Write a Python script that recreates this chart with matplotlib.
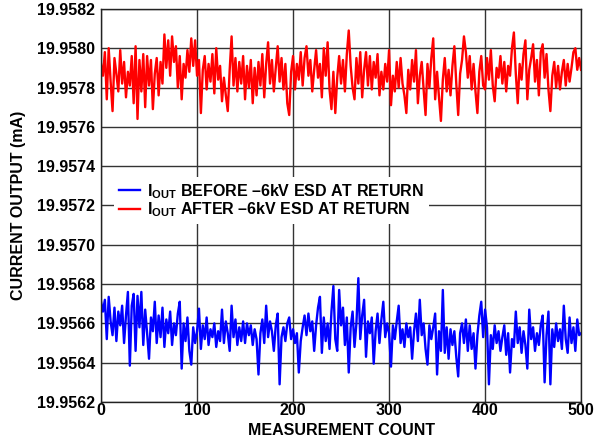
import numpy as np
import matplotlib
matplotlib.use("Agg")
import matplotlib.pyplot as plt

plt.rcParams["font.family"] = ["Liberation Sans", "DejaVu Sans"]
plt.rcParams["font.weight"] = "bold"
plt.rcParams["mathtext.fontset"] = "custom"
plt.rcParams["mathtext.rm"] = "Liberation Sans:bold"
plt.rcParams["mathtext.bf"] = "Liberation Sans:bold"
plt.rcParams["mathtext.it"] = "Liberation Sans:bold"

# readings in units of 0.0001 mA above 19.9560 mA, one every 2 counts (0..500)
after_esd = [
    19.2, 18.6, 19.8, 17.4, 20.0, 18.3, 16.8, 19.5, 18.7, 17.8, 19.9, 18.2, 19.3, 17.5, 18.8, 18.1, 19.6, 17.2, 20.1, 16.4, 19.4, 17.8, 19.7, 17.0, 19.6,
    18.1, 19.4, 16.9, 18.7, 19.5, 17.6, 19.3, 18.2, 20.7, 19.0, 20.4, 18.6, 20.6, 19.3, 20.1, 18.0, 19.6, 17.4, 19.2, 18.5, 19.9, 18.8, 20.5, 19.1, 20.4,
    18.6, 19.4, 16.7, 18.9, 19.6, 17.9, 19.2, 18.3, 19.7, 17.7, 20.0, 18.4, 19.1, 17.3, 18.5, 17.6, 16.8, 18.9, 20.6, 18.1, 19.5, 17.8, 19.3, 18.2, 19.6,
    17.4, 19.1, 18.0, 19.4, 17.2, 19.0, 17.6, 19.3, 18.1, 19.7, 17.5, 19.2, 20.3, 18.2, 19.4, 17.8, 19.0, 20.1, 18.3, 19.5, 17.9, 19.2, 17.2, 16.6, 18.8,
    19.6, 17.9, 19.2, 18.4, 19.8, 18.1, 19.5, 20.1, 18.6, 19.4, 17.8, 18.9, 19.9, 18.5, 19.2, 17.5, 20.0, 18.6, 20.3, 17.9, 16.9, 18.8, 16.7, 18.5, 19.6,
    18.2, 19.4, 17.8, 19.7, 20.9, 19.1, 18.0, 17.4, 19.5, 18.2, 19.8, 17.5, 18.9, 19.8, 18.1, 19.6, 17.9, 19.3, 18.5, 19.7, 17.6, 18.8, 17.9, 19.2, 18.3,
    19.9, 17.1, 18.6, 17.8, 19.3, 18.0, 19.5, 18.2, 17.6, 16.7, 18.9, 17.9, 19.4, 18.3, 19.9, 17.2, 18.6, 19.3, 17.9, 16.6, 19.2, 18.0, 19.5, 20.5, 17.4,
    18.8, 17.5, 16.3, 18.4, 19.5, 17.8, 18.9, 17.6, 19.1, 20.1, 18.2, 16.6, 18.7, 19.4, 20.6, 19.8, 18.5, 19.6, 17.9, 19.2, 17.8, 16.7, 18.8, 19.6, 18.1,
    17.9, 19.5, 18.4, 19.9, 18.1, 17.3, 19.0, 18.5, 19.6, 18.2, 19.3, 17.8, 19.1, 18.6, 20.0, 20.8, 18.7, 17.2, 19.2, 18.4, 19.7, 20.4, 17.4, 18.9, 19.5,
    20.2, 18.3, 19.4, 17.6, 19.8, 20.2, 18.5, 19.7, 17.9, 16.8, 18.6, 19.3, 18.0, 19.1, 17.9, 18.8, 19.4, 18.1, 19.2, 18.3, 19.0, 19.8, 20.0, 18.9, 19.5,
    18.9,
]
before_esd = [
    7.1, 6.6, 7.2, 5.2, 7.35, 6.1, 5.4, 6.8, 5.1, 6.6, 5.9, 6.9, 5.0, 6.4, 7.6, 3.85, 6.9, 7.5, 4.6, 7.4, 5.8, 7.6, 4.9, 6.7, 5.5,
    4.2, 6.3, 5.6, 7.1, 5.0, 6.4, 5.3, 6.8, 4.8, 6.2, 5.5, 6.6, 4.9, 6.0, 5.4, 6.5, 7.1, 3.7, 6.0, 5.1, 6.3, 4.6, 3.9, 5.8, 5.0,
    5.6, 6.75, 4.7, 5.9, 5.2, 6.3, 4.9, 5.7, 5.3, 6.0, 4.8, 5.6, 5.1, 6.7, 5.0, 6.1, 5.5, 4.6, 6.9, 5.3, 6.2, 4.9, 5.8, 5.1, 6.1,
    5.0, 6.0, 5.4, 5.9, 4.9, 5.7, 5.2, 3.4, 5.5, 6.2, 5.0, 6.9, 5.3, 6.1, 5.6, 4.6, 5.9, 6.5, 2.9, 5.3, 5.8, 5.1, 6.0, 6.3, 5.2,
    5.7, 5.0, 5.5, 3.5, 5.1, 5.8, 6.4, 5.4, 6.5, 5.6, 6.1, 4.6, 5.9, 6.8, 7.35, 4.5, 6.3, 5.1, 6.0, 4.7, 6.6, 7.9, 5.2, 4.6, 7.7,
    5.9, 6.8, 4.9, 6.3, 3.5, 5.8, 6.6, 4.8, 6.0, 8.3, 5.2, 6.4, 7.2, 4.3, 6.1, 5.5, 6.3, 3.95, 5.6, 6.5, 5.0, 6.2, 7.1, 5.3, 6.0,
    5.5, 3.8, 5.9, 5.2, 6.1, 6.9, 5.0, 5.7, 4.8, 6.0, 5.3, 5.8, 4.2, 5.6, 6.5, 5.1, 7.2, 5.4, 6.0, 4.7, 3.9, 5.9, 5.2, 5.8, 6.5,
    3.4, 5.6, 4.6, 7.7, 4.5, 5.8, 4.2, 5.7, 4.9, 5.6, 4.3, 3.3, 5.5, 6.0, 5.0, 6.2, 4.6, 5.9, 4.7, 5.5, 3.7, 5.4, 6.4, 7.1, 5.3,
    6.7, 5.8, 2.9, 5.4, 4.7, 5.9, 5.0, 5.6, 4.6, 5.3, 5.9, 4.4, 5.5, 3.5, 5.2, 4.8, 6.6, 5.0, 5.8, 4.5, 5.6, 4.9, 3.7, 6.7, 5.2,
    5.8, 4.6, 5.5, 4.9, 5.9, 6.4, 3.0, 5.4, 6.6, 2.9, 5.7, 4.8, 6.0, 5.1, 5.7, 4.7, 6.9, 5.2, 4.5, 6.3, 5.0, 5.8, 4.6, 6.2, 5.4,
    5.5,
]
base_ma = 19.9560
unit_ma = 0.0001
count = np.arange(len(after_esd)) * 2

labels = [r"$\mathrm{I_{OUT}}$ BEFORE –6kV ESD AT RETURN",
          r"$\mathrm{I_{OUT}}$ AFTER –6kV ESD AT RETURN"]
y_ticks = np.round(np.arange(19.9562, 19.95821, 0.0002), 4)

fig = plt.figure(figsize=(5.96, 4.44), dpi=100)
ax = fig.add_axes([0.1695, 0.0946, 0.8055, 0.8854])

ax.plot(count, base_ma + np.array(before_esd) * unit_ma, color="#0000ff", lw=1.7, label=labels[0])
ax.plot(count, base_ma + np.array(after_esd) * unit_ma, color="#ff0000", lw=1.7, label=labels[1])

ax.set_xlim(0, 500)
ax.set_ylim(19.9562, 19.9582)
ax.set_xticks([0, 100, 200, 300, 400, 500])
ax.set_yticks(y_ticks)
ax.set_yticklabels([f"{v:.4f}" for v in y_ticks])
ax.grid(True, color="#333333", lw=1.0)
ax.set_axisbelow(True)
for s in ax.spines.values():
    s.set_linewidth(1.0)
    s.set_color("#222222")
ax.tick_params(direction="in", length=0, labelsize=11.5)
ax.tick_params(axis="x", pad=1)
ax.tick_params(axis="y", pad=4)

ax.set_xlabel("MEASUREMENT COUNT", fontsize=11.5, fontweight="bold", labelpad=3)
ax.set_ylabel("CURRENT OUTPUT (mA)", fontsize=11.5, fontweight="bold", labelpad=8)

leg = ax.legend(loc="center left", bbox_to_anchor=(0.028, 0.512), fontsize=11.5,
                frameon=True, fancybox=False, framealpha=1.0, edgecolor="none",
                facecolor="white", handlelength=1.3, handletextpad=0.45,
                labelspacing=0.0, borderpad=0.3, borderaxespad=0.0)
for line in leg.get_lines():
    line.set_linewidth(1.7)

fig.savefig("out.png", dpi=100)
